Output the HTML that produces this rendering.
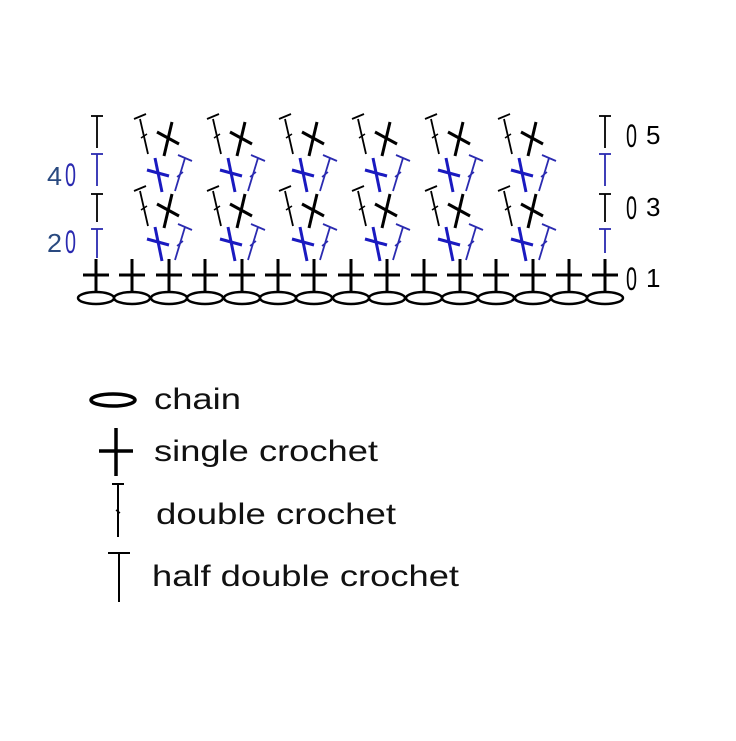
<!DOCTYPE html>
<html><head><meta charset="utf-8"><style>
html,body{margin:0;padding:0;background:#fff;width:736px;height:741px;overflow:hidden}
svg{display:block}
text{font-family:"Liberation Sans",sans-serif}
</style></head><body>
<svg width="736" height="741" viewBox="0 0 736 741" xmlns="http://www.w3.org/2000/svg">
<defs>
<g id="sc"><line x1="0" y1="-16" x2="0" y2="18" stroke="#000" stroke-width="3"/><line x1="-13" y1="0" x2="13" y2="0" stroke="#000" stroke-width="3"/></g>
<g id="ch"><ellipse cx="0" cy="0" rx="18" ry="6" fill="none" stroke="#000" stroke-width="2.5"/></g>
<g id="blue">
 <line x1="6" y1="260" x2="16" y2="227" stroke="#2a2ab0" stroke-width="1.8"/>
 <line x1="9" y1="224" x2="23" y2="230" stroke="#2a2ab0" stroke-width="1.8"/>
 <line x1="8" y1="246" x2="14" y2="241" stroke="#2a2ab0" stroke-width="1.5"/>
 <line x1="-14" y1="227" x2="-7" y2="261" stroke="#1a1ac0" stroke-width="3"/>
 <line x1="-22" y1="239" x2="0" y2="245" stroke="#1a1ac0" stroke-width="3"/>
</g>
<g id="black">
 <line x1="-29" y1="191" x2="-21" y2="226" stroke="#000" stroke-width="1.8"/>
 <line x1="-35" y1="191" x2="-23" y2="186" stroke="#000" stroke-width="1.8"/>
 <line x1="-28" y1="210" x2="-22" y2="206" stroke="#000" stroke-width="1.5"/>
 <line x1="3" y1="194" x2="-5" y2="228" stroke="#000" stroke-width="3"/>
 <line x1="-12" y1="204" x2="10" y2="216" stroke="#000" stroke-width="3"/>
</g>
<g id="grp"><use href="#blue"/><use href="#black"/><use href="#blue" transform="translate(0,-69)"/><use href="#black" transform="translate(0,-72)"/></g>
</defs>

<use href="#ch" x="96" y="298"/><use href="#ch" x="132" y="298"/><use href="#ch" x="169" y="298"/><use href="#ch" x="205" y="298"/><use href="#ch" x="242" y="298"/><use href="#ch" x="278" y="298"/><use href="#ch" x="314" y="298"/><use href="#ch" x="351" y="298"/><use href="#ch" x="387" y="298"/><use href="#ch" x="424" y="298"/><use href="#ch" x="460" y="298"/><use href="#ch" x="496" y="298"/><use href="#ch" x="533" y="298"/><use href="#ch" x="569" y="298"/><use href="#ch" x="605" y="298"/>
<use href="#sc" x="96" y="275"/><use href="#sc" x="132" y="275"/><use href="#sc" x="169" y="275"/><use href="#sc" x="205" y="275"/><use href="#sc" x="242" y="275"/><use href="#sc" x="278" y="275"/><use href="#sc" x="314" y="275"/><use href="#sc" x="351" y="275"/><use href="#sc" x="387" y="275"/><use href="#sc" x="424" y="275"/><use href="#sc" x="460" y="275"/><use href="#sc" x="496" y="275"/><use href="#sc" x="533" y="275"/><use href="#sc" x="569" y="275"/><use href="#sc" x="605" y="275"/>
<use href="#grp" x="169"/><use href="#grp" x="242"/><use href="#grp" x="314"/><use href="#grp" x="387"/><use href="#grp" x="460"/><use href="#grp" x="533"/>

<g stroke-width="1.8">
<line x1="97" y1="116" x2="97" y2="148" stroke="#000"/><line x1="91" y1="116" x2="103" y2="116" stroke="#000"/>
<line x1="97" y1="154" x2="97" y2="186" stroke="#2a2ab0"/><line x1="91" y1="154" x2="103" y2="154" stroke="#2a2ab0"/>
<line x1="97" y1="194" x2="97" y2="222" stroke="#000"/><line x1="91" y1="194" x2="103" y2="194" stroke="#000"/>
<line x1="97" y1="229" x2="97" y2="258" stroke="#2a2ab0"/><line x1="91" y1="229" x2="103" y2="229" stroke="#2a2ab0"/>
<line x1="605" y1="116" x2="605" y2="148" stroke="#000"/><line x1="599" y1="116" x2="611" y2="116" stroke="#000"/>
<line x1="605" y1="154" x2="605" y2="186" stroke="#2a2ab0"/><line x1="599" y1="154" x2="611" y2="154" stroke="#2a2ab0"/>
<line x1="605" y1="194" x2="605" y2="222" stroke="#000"/><line x1="599" y1="194" x2="611" y2="194" stroke="#000"/>
<line x1="605" y1="229" x2="605" y2="253" stroke="#2a2ab0"/><line x1="599" y1="229" x2="611" y2="229" stroke="#2a2ab0"/>
</g>
<g font-size="26">
<text x="47" y="185" fill="#2a4a80" textLength="15" lengthAdjust="spacingAndGlyphs">4</text>
<text x="65" y="186" fill="#2a2ab0" font-size="32" textLength="11" lengthAdjust="spacingAndGlyphs">0</text>
<text x="47" y="252" fill="#2a4a80" textLength="15" lengthAdjust="spacingAndGlyphs">2</text>
<text x="65" y="253" fill="#2a2ab0" font-size="32" textLength="11" lengthAdjust="spacingAndGlyphs">0</text>
<text x="626" y="147" fill="#000" font-size="32" textLength="11" lengthAdjust="spacingAndGlyphs">0</text><text x="646" y="144" fill="#000">5</text>
<text x="626" y="219" fill="#000" font-size="32" textLength="11" lengthAdjust="spacingAndGlyphs">0</text><text x="646" y="216" fill="#000">3</text>
<text x="626" y="290" fill="#000" font-size="32" textLength="11" lengthAdjust="spacingAndGlyphs">0</text><text x="646" y="287" fill="#000">1</text>
</g>

<ellipse cx="113" cy="400" rx="22" ry="6" fill="none" stroke="#000" stroke-width="3.5"/>
<line x1="116" y1="428" x2="116" y2="476" stroke="#000" stroke-width="3.5"/>
<line x1="99" y1="451" x2="133" y2="451" stroke="#000" stroke-width="3.5"/>
<line x1="112" y1="484" x2="124" y2="484" stroke="#000" stroke-width="2"/>
<line x1="118" y1="484" x2="118" y2="537" stroke="#000" stroke-width="2"/>
<line x1="116" y1="510" x2="120" y2="513" stroke="#000" stroke-width="1.5"/>
<line x1="108" y1="553" x2="130" y2="553" stroke="#000" stroke-width="2"/>
<line x1="119" y1="553" x2="119" y2="602" stroke="#000" stroke-width="2"/>
<g font-size="30" fill="#111">
<text x="154" y="409" textLength="87" lengthAdjust="spacingAndGlyphs">chain</text>
<text x="154" y="461" textLength="224" lengthAdjust="spacingAndGlyphs">single crochet</text>
<text x="156" y="524" textLength="240" lengthAdjust="spacingAndGlyphs">double crochet</text>
<text x="152" y="586" textLength="307" lengthAdjust="spacingAndGlyphs">half double crochet</text>
</g>
</svg>
</body></html>
